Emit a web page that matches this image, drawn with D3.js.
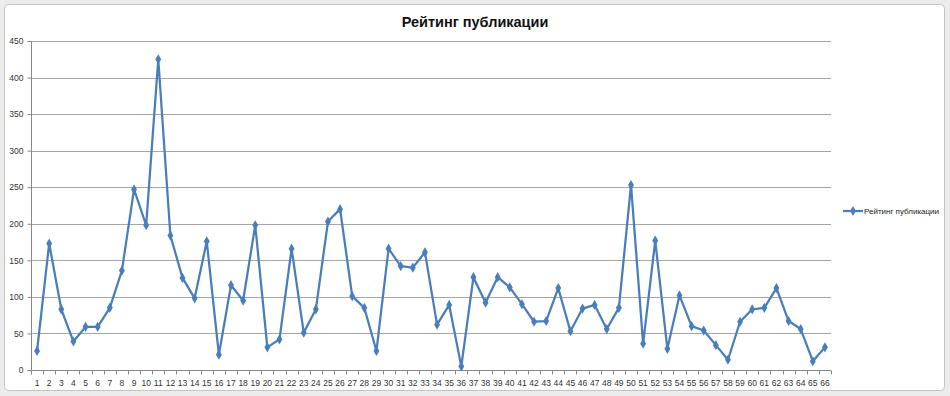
<!DOCTYPE html>
<html>
  <head>
    <meta charset="utf-8" />
    <title>Рейтинг публикации</title>
    <script src="https://d3js.org/d3.v7.min.js"></script>
    <style>
      body { margin: 0; background: #ececec; }
      svg { display: block; }
    </style>
  </head>
  <body>
    <svg width="950" height="396"></svg>
    <script>
      // Data
      var categories = d3.range(1, 67);
      var values = [
        26, 173, 83, 39, 59, 59, 85, 136, 247, 198,
        425, 184, 126, 98, 176, 21, 116, 95, 198, 31,
        42, 166, 51, 83, 203, 220, 101, 85, 26, 166,
        142, 140, 161, 62, 89, 5, 127, 92, 127, 113,
        90, 66, 67, 112, 53, 84, 89, 56, 85, 253,
        36, 177, 29, 102, 60, 54, 34, 14, 66, 83,
        85, 112, 67, 56, 12, 31
      ];
      var yTicks = [0, 50, 100, 150, 200, 250, 300, 350, 400, 450];
      var title = "Рейтинг публикации";

      var data = categories.map(function (c, i) { return { label: c, value: values[i] }; });

      var svg = d3.select("svg");
      var font = "'Liberation Sans', Arial, sans-serif";

      // chart frame
      svg.append("rect")
        .attr("x", 4.5).attr("y", 4.5)
        .attr("width", 940).attr("height", 386)
        .attr("rx", 4)
        .attr("fill", "#fff")
        .attr("stroke", "#c4c4c4");

      var margin = { top: 41, left: 31 },
        width = 800,
        height = 329;

      var x = d3.scaleBand().domain(categories).range([0, width]);
      var y = d3.scaleLinear().domain([0, 450]).range([height, 0]);

      var g = svg.append("g").attr("transform", "translate(" + margin.left + "," + margin.top + ")");

      // grid lines
      g.selectAll(".grid")
        .data(yTicks.slice(1))
        .enter()
        .append("line")
        .attr("x1", 0).attr("x2", width)
        .attr("y1", function (d) { return Math.round(y(d)) + 0.5; })
        .attr("y2", function (d) { return Math.round(y(d)) + 0.5; })
        .attr("stroke", "#a6a6a6");

      // y axis
      var yAxis = g.append("g")
        .attr("transform", "translate(0.5,0)")
        .call(d3.axisLeft(y).tickValues(yTicks).tickSize(4).tickPadding(4));
      yAxis.select(".domain").attr("stroke", "#888").attr("d", "M0,0V" + height);
      yAxis.selectAll(".tick line").attr("stroke", "#888");
      yAxis.selectAll("text").style("font-family", font).style("font-size", "8.5px").attr("fill", "#333");

      // x axis
      var xAxis = g.append("g")
        .attr("transform", "translate(0," + (height + 0.5) + ")")
        .call(d3.axisBottom(x).tickSize(0).tickPadding(9));
      xAxis.select(".domain").attr("stroke", "#888").attr("d", "M0,0H" + width);
      xAxis.selectAll("text").style("font-family", font).style("font-size", "8.5px").attr("fill", "#333");
      // tick marks between categories
      xAxis.selectAll(".sep")
        .data(categories.concat([67]))
        .enter()
        .append("line")
        .attr("x1", function (d, i) { return Math.round(i * x.bandwidth()) + 0.5; })
        .attr("x2", function (d, i) { return Math.round(i * x.bandwidth()) + 0.5; })
        .attr("y1", 0).attr("y2", 4)
        .attr("stroke", "#888");

      var cx = function (d) { return x(d.label) + x.bandwidth() / 2; };

      // line
      var line = d3.line()
        .x(cx)
        .y(function (d) { return y(d.value); });

      g.append("path")
        .datum(data)
        .attr("d", line)
        .attr("fill", "none")
        .attr("stroke", "#4a7ebb")
        .attr("stroke-width", 2.25)
        .attr("stroke-linejoin", "round");

      // diamond markers
      var diamond = d3.symbol().type(d3.symbolDiamond).size(30);
      g.selectAll(".pt")
        .data(data)
        .enter()
        .append("path")
        .attr("class", "pt")
        .attr("d", diamond)
        .attr("transform", function (d) { return "translate(" + cx(d) + "," + y(d.value) + ")"; })
        .attr("fill", "#4a7ebb");

      // title
      svg.append("text")
        .attr("x", 475).attr("y", 27)
        .attr("text-anchor", "middle")
        .style("font-family", font)
        .style("font-size", "14.5px")
        .style("font-weight", "bold")
        .attr("fill", "#111")
        .text(title);

      // legend
      var lg = svg.append("g").attr("transform", "translate(843,211)");
      lg.append("line").attr("x1", 0).attr("x2", 20).attr("y1", 0).attr("y2", 0)
        .attr("stroke", "#4a7ebb").attr("stroke-width", 2.25);
      lg.append("path").attr("d", diamond).attr("transform", "translate(10,0)").attr("fill", "#4a7ebb");
      lg.append("text")
        .attr("x", 21).attr("y", 3)
        .style("font-family", font)
        .style("font-size", "8px")
        .attr("fill", "#222")
        .text(title);
    </script>
  </body>
</html>
